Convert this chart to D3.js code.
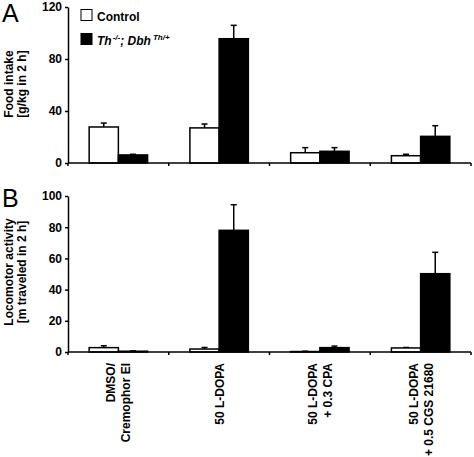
<!DOCTYPE html>
<html>
<head>
<meta charset="utf-8">
<script src="https://cdn.jsdelivr.net/npm/d3@7"></script>
<style>
  body { margin: 0; background: #fff; }
  svg { display: block; font-family: "Liberation Sans", Arial, sans-serif; }
  .axis text { font-size: 12px; font-weight: bold; fill: #000; }
  .axis path, .axis line { stroke: #000; stroke-width: 1.5px; }
</style>
</head>
<body>
<svg id="chart" width="474" height="457"></svg>
<script>
// ---- data ----
const categories = [
  ["DMSO/", "Cremophor El"],
  ["50 L-DOPA"],
  ["50 L-DOPA", "+ 0.3 CPA"],
  ["50 L-DOPA", "+ 0.5 CGS 21680"]
];
const seriesNames = ["Control", "Th-/-; Dbh Th/+"];
const foodControl = [27.7, 27.0, 7.9, 5.6];
const foodControlErr = [3.0, 3.0, 3.9, 1.1];
const foodMutant = [6.2, 95.6, 9.0, 20.5];
const foodMutantErr = [0.5, 10.3, 2.8, 8.2];
const locoControl = [2.8, 1.9, 0.3, 2.6];
const locoControlErr = [1.2, 1.0, 0.2, 0.3];
const locoMutant = [0.5, 78.0, 2.8, 50.2];
const locoMutantErr = [0.2, 16.4, 1.0, 13.7];
const foodTicks = [0, 40, 80, 120];
const locoTicks = [0, 20, 40, 60, 80, 100];

const svg = d3.select("#chart");
const left = 68, right = 471;
const idx = d3.range(categories.length);
const x0 = d3.scaleBand().domain(idx).range([left, right]).padding(0);
const barW = x0.bandwidth() * 0.29;
const x1 = d3.scaleBand().domain([0, 1]).range([-barW, barW]).padding(0);

function panel(top, bottom, maxV, ticks, ctrl, ctrlErr, mut, mutErr, letter, letterY, labelLines, labelY) {
  const y = d3.scaleLinear().domain([0, maxV]).range([bottom, top]);
  const g = svg.append("g");
  const data = [];
  idx.forEach(i => {
    data.push({i, s: 0, v: ctrl[i], e: ctrlErr[i]});
    data.push({i, s: 1, v: mut[i], e: mutErr[i]});
  });
  const cx = d => x0(d.i) + x0.bandwidth() / 2 + x1(d.s);
  // error bars
  g.selectAll("line.err").data(data).enter().append("line")
    .attr("x1", d => cx(d) + barW / 2).attr("x2", d => cx(d) + barW / 2)
    .attr("y1", d => y(d.v)).attr("y2", d => y(d.v + d.e))
    .attr("stroke", "#000").attr("stroke-width", 1.5);
  g.selectAll("line.cap").data(data).enter().append("line")
    .attr("x1", d => cx(d) + barW / 2 - 3).attr("x2", d => cx(d) + barW / 2 + 3)
    .attr("y1", d => y(d.v + d.e)).attr("y2", d => y(d.v + d.e))
    .attr("stroke", "#000").attr("stroke-width", 1.5);
  // bars
  g.selectAll("rect").data(data).enter().append("rect")
    .attr("x", d => cx(d)).attr("width", barW)
    .attr("y", d => y(d.v)).attr("height", d => bottom - y(d.v))
    .attr("fill", d => d.s === 0 ? "#fff" : "#000")
    .attr("stroke", "#000").attr("stroke-width", 1.5);
  // y axis
  g.append("g").attr("class", "axis").attr("transform", `translate(${left},0)`)
    .call(d3.axisLeft(y).tickValues(ticks).tickSize(3).tickSizeOuter(0).tickPadding(3));
  // x axis
  const xa = g.append("g").attr("class", "axis");
  xa.append("line").attr("x1", left).attr("x2", right).attr("y1", bottom).attr("y2", bottom);
  const bounds = idx.map(i => x0(i)).concat([right]);
  xa.selectAll("line.tk").data(bounds).enter().append("line")
    .attr("x1", d => d).attr("x2", d => d).attr("y1", bottom).attr("y2", bottom + 3);
  // panel letter
  svg.append("text").attr("x", 2).attr("y", letterY).attr("font-size", 25).text(letter);
  // y label
  const yl = svg.append("text").attr("font-size", 12).attr("font-weight", "bold")
    .attr("text-anchor", "middle")
    .attr("transform", `translate(0,${labelY}) rotate(-90)`);
  labelLines.forEach((t, k) => yl.append("tspan").attr("x", 0).attr("y", 13 + k * 12.5).text(t));
  return y;
}

panel(7, 163, 120, foodTicks, foodControl, foodControlErr, foodMutant, foodMutantErr,
  "A", 22, ["Food intake", "[g/kg in 2 h]"], 84);
panel(196, 352, 100, locoTicks, locoControl, locoControlErr, locoMutant, locoMutantErr,
  "B", 207, ["Locomotor activity", "[m traveled in 2 h]"], 272);

// category labels (rotated)
categories.forEach((lines, i) => {
  const c = x0(i) + x0.bandwidth() / 2;
  lines.forEach((t, k) => {
    const off = (k - (lines.length - 1) / 2) * 15 + 4.5;
    svg.append("text").attr("font-size", 12).attr("font-weight", "bold")
      .attr("text-anchor", "end")
      .attr("transform", `translate(${c + off},363) rotate(-90)`)
      .text(t);
  });
});

// legend
const lg = svg.append("g");
lg.append("rect").attr("x", 81).attr("y", 9.5).attr("width", 11).attr("height", 11)
  .attr("fill", "#fff").attr("stroke", "#000").attr("stroke-width", 1);
lg.append("rect").attr("x", 81).attr("y", 33.5).attr("width", 11).attr("height", 11)
  .attr("fill", "#000").attr("stroke", "#000").attr("stroke-width", 1);
lg.append("text").attr("x", 97).attr("y", 21).attr("font-size", 12).attr("font-weight", "bold")
  .text(seriesNames[0]);
const t2 = lg.append("text").attr("x", 97).attr("y", 45).attr("font-size", 12)
  .attr("font-weight", "bold").attr("font-style", "italic");
t2.append("tspan").text("Th");
t2.append("tspan").attr("font-size", 8).attr("dy", -5).attr("dx", 1).text("-/-");
t2.append("tspan").attr("dy", 5).text("; Dbh");
t2.append("tspan").attr("font-size", 8).attr("dy", -5).attr("dx", 2).text("Th/+");
</script>
</body>
</html>
